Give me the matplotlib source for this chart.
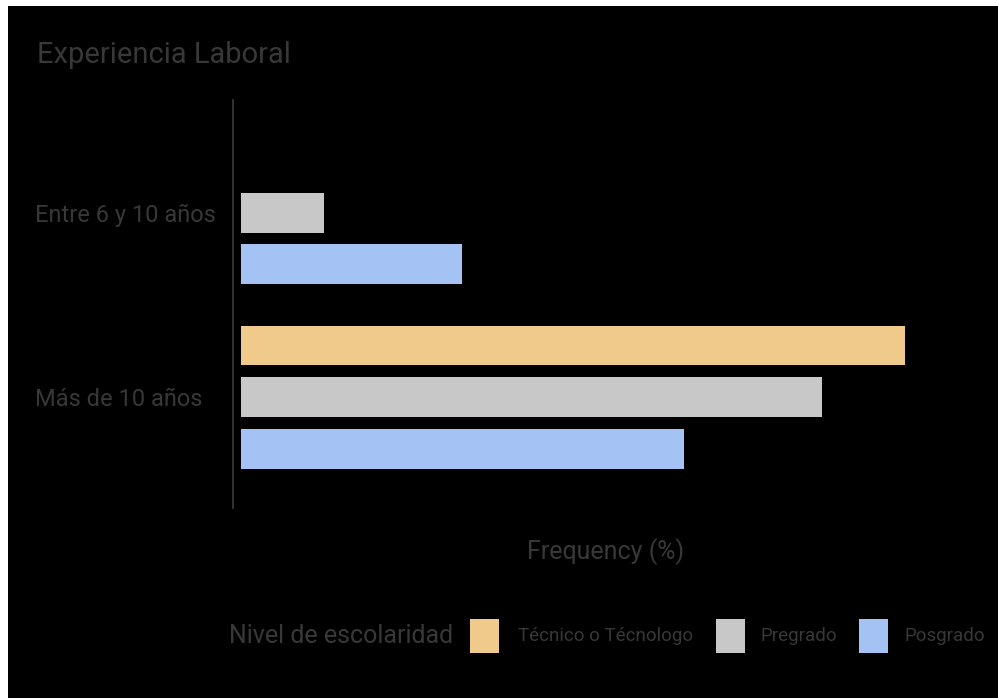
import matplotlib
matplotlib.use("Agg")
import matplotlib.pyplot as plt
from matplotlib.patches import Rectangle

# datos
categorias = ["Entre 6 y 10 años", "Más de 10 años"]
niveles = ["Técnico o Técnologo", "Pregrado", "Posgrado"]
tecnico = [0, 100]
pregrado = [12.5, 87.5]
posgrado = [33.3, 66.7]
colores = ["#F0CA8A", "#C8C8C8", "#A4C2F4"]

plt.rcParams["font.family"] = ["Roboto", "DejaVu Sans"]
txt = "#383838"

fig = plt.figure(figsize=(9.98, 6.98), dpi=100, facecolor="white")
# fondo negro con un borde blanco arriba e izquierda
fig.patches.append(Rectangle((8 / 998, 0), 1, 1 - 6 / 698, transform=fig.transFigure,
                             facecolor="black", edgecolor="none", zorder=-5))

ax = fig.add_axes([233 / 998, 1 - 508 / 698, 750 / 998, 408 / 698])
ax.set_zorder(1)
ax.patch.set_alpha(0)

series = [tecnico, pregrado, posgrado]
offsets = [-0.28, 0, 0.28]
for vals, off, col in zip(series, offsets, colores):
    ys = [i + off for i in range(len(categorias))]
    ax.barh(ys, vals, height=0.216, color=col, edgecolor="none")

ax.set_xlim(-1.2, 111.7)
ax.set_ylim(1.6, -0.61)
ax.set_yticks(range(len(categorias)))
ax.set_yticklabels(categorias, fontsize=17, color=txt, ha="left")
# etiquetas alineadas a la izquierda en x=35 px
ax.tick_params(axis="y", length=0, pad=(233 - 35) * 0.72)
ax.set_xticks([])
for s in ["top", "right", "bottom"]:
    ax.spines[s].set_visible(False)
ax.spines["left"].set_color("#3a3a3a")
ax.spines["left"].set_linewidth(1.2)

fig.text(37 / 998, 1 - 55 / 698, "Experiencia Laboral", fontsize=21, color=txt,
         ha="left", va="center")
fig.text(606 / 998, 1 - 552 / 698, "Frequency (%)", fontsize=18, color=txt,
         ha="center", va="center")

# leyenda
ly = 1 - 636 / 698
fig.text(453 / 998, ly, "Nivel de escolaridad", fontsize=18, color=txt,
         ha="right", va="center")
parche_x = [470, 716, 859]
texto_x = [518, 760, 905]
for nivel, col, px, tx in zip(niveles, colores, parche_x, texto_x):
    fig.patches.append(Rectangle((px / 998, ly - 17 / 698), 29 / 998, 34 / 698,
                                 transform=fig.transFigure, facecolor=col,
                                 edgecolor="none", zorder=2))
    fig.text(tx / 998, ly, nivel, fontsize=13.5, color=txt, ha="left", va="center")

fig.savefig("out.png", dpi=100, facecolor=fig.get_facecolor())
